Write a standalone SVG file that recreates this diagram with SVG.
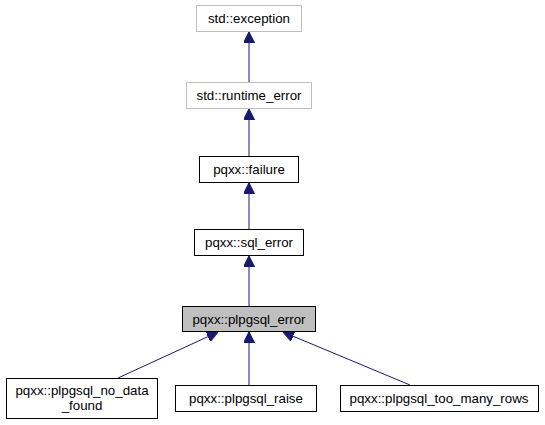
<svg xmlns="http://www.w3.org/2000/svg" width="545" height="425" viewBox="0 0 545 425">
<defs>
<marker id="arr" viewBox="0 0 10 10" refX="10" refY="5" markerWidth="11" markerHeight="11" markerUnits="userSpaceOnUse" orient="auto">
<path d="M0,0 L10,5 L0,10 z" fill="#191970" stroke="#191970"/>
</marker>
</defs>
<style>
.box{fill:#ffffff;stroke:#000000;stroke-width:1}
.ext{fill:#ffffff;stroke:#bfbfbf;stroke-width:1}
.cur{fill:#bfbfbf;stroke:#000000;stroke-width:1}
text{font-family:"Liberation Sans",Arial,sans-serif;font-size:13.3px;fill:#000000;text-anchor:middle}
.edge{stroke:#191970;stroke-width:1;fill:none;marker-end:url(#arr)}
</style>
<rect width="545" height="425" fill="#ffffff"/>
<g id="connectors">
<path class="edge" d="M249,82 L249,32"/>
<path class="edge" d="M249,156 L249,109"/>
<path class="edge" d="M249,229 L249,183"/>
<path class="edge" d="M249,306 L249,256"/>
<path class="edge" d="M118,378 L218,332"/>
<path class="edge" d="M249,385 L249,332"/>
<path class="edge" d="M410,385 L283,332"/>
</g>
<g id="std_exception">
<rect class="ext" x="196.5" y="5.5" width="105" height="26"/>
<text x="249" y="23">std::exception</text>
</g>
<g id="std_runtime_error">
<rect class="ext" x="186.5" y="82.5" width="125" height="26"/>
<text x="249" y="100">std::runtime_error</text>
</g>
<g id="pqxx_failure">
<rect class="box" x="199.5" y="156.5" width="99" height="26"/>
<text x="249" y="174">pqxx::failure</text>
</g>
<g id="pqxx_sql_error">
<rect class="box" x="194.5" y="229.5" width="109" height="26"/>
<text x="249" y="247">pqxx::sql_error</text>
</g>
<g id="pqxx_plpgsql_error">
<rect class="cur" x="182.5" y="306.5" width="133" height="25"/>
<text x="249" y="323.5">pqxx::plpgsql_error</text>
</g>
<g id="pqxx_plpgsql_no_data_found">
<rect class="box" x="6.5" y="378.5" width="151" height="40"/>
<text x="82" y="395">pqxx::plpgsql_no_data</text>
<text x="82" y="410">_found</text>
</g>
<g id="pqxx_plpgsql_raise">
<rect class="box" x="175.5" y="385.5" width="141" height="26"/>
<text x="246" y="403">pqxx::plpgsql_raise</text>
</g>
<g id="pqxx_plpgsql_too_many_rows">
<rect class="box" x="340.5" y="385.5" width="198" height="26"/>
<text x="439" y="403">pqxx::plpgsql_too_many_rows</text>
</g>
</svg>
